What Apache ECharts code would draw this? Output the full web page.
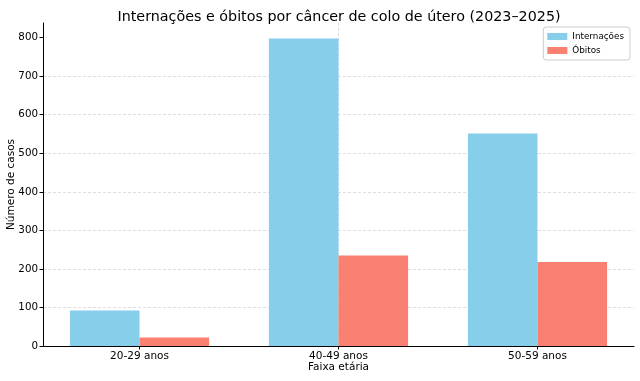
<!DOCTYPE html>
<html><head><meta charset="utf-8">
<script src="https://cdn.jsdelivr.net/npm/echarts@6/dist/echarts.min.js"></script>
<style>html,body{margin:0;padding:0;background:#fff}#c{width:640px;height:381px}</style>
</head><body><div id="c"></div>
<script>
const categories = ['20-29 anos', '40-49 anos', '50-59 anos'];
const internacoes = [92, 798, 551];
const obitos = [22, 235, 218];
const yTicks = [0, 100, 200, 300, 400, 500, 600, 700, 800];

const font = 'DejaVu Sans';
const chart = echarts.init(document.getElementById('c'), null, {renderer: 'canvas'});
const idx = categories.map((_, i) => i);
chart.setOption({
  animation: false,
  backgroundColor: '#fff',
  title: {
    text: 'Internações e óbitos por câncer de colo de útero (2023–2025)',
    left: 334, top: 5, textAlign: 'center',
    textStyle: {fontFamily: font, fontSize: 14.3, fontWeight: 'normal', color: '#000'}
  },
  legend: {
    right: 10, top: 27, orient: 'vertical',
    itemWidth: 20, itemHeight: 7, itemGap: 5, icon: 'rect',
    padding: [5, 6, 5, 4],
    borderColor: '#cccccc', borderWidth: 1, borderRadius: 3, backgroundColor: '#fff',
    textStyle: {fontFamily: font, fontSize: 8.8, color: '#000', padding: [0, 0, 0, 0]},
    data: ['Internações', 'Óbitos']
  },
  grid: {left: 43, right: 6, top: 23, bottom: 35, containLabel: false, outerBoundsMode: 'none'},
  xAxis: {
    type: 'value', min: -0.485, max: 2.485,
    name: 'Faixa etária', nameLocation: 'middle', nameGap: 16, nameMoveOverlap: false,
    nameTextStyle: {fontFamily: font, fontSize: 10.5, color: '#000', verticalAlign: 'top'},
    axisLine: {show: true, onZero: false, lineStyle: {color: '#000', width: 1}},
    axisTick: {show: true, customValues: idx, length: 3.5, lineStyle: {color: '#000'}},
    axisLabel: {show: true, customValues: idx, fontFamily: font, fontSize: 10.5, color: '#000', margin: 5,
      formatter: v => categories[Math.round(v)]},
    splitLine: {show: true, showMinLine: false, showMaxLine: false, lineStyle: {color: '#d6d6d6', type: [3, 2], width: 0.8}}
  },
  yAxis: {
    type: 'value', min: 0, max: 838, interval: 100,
    name: 'Número de casos', nameLocation: 'middle', nameGap: 26.5, nameRotate: 90, nameMoveOverlap: false,
    nameTextStyle: {fontFamily: font, fontSize: 10.5, color: '#000', verticalAlign: 'bottom'},
    axisLine: {show: true, onZero: false, lineStyle: {color: '#000', width: 1}},
    axisTick: {show: true, customValues: yTicks, length: 3.5, lineStyle: {color: '#000'}},
    axisLabel: {customValues: yTicks, fontFamily: font, fontSize: 10.3, color: '#000', margin: 5},
    splitLine: {show: true, showMinLine: false, showMaxLine: false, lineStyle: {color: '#d6d6d6', type: [3, 2], width: 0.8}}
  },
  series: [
    {name: 'Internações', type: 'bar', barWidth: 69.6, barGap: '0%',
      itemStyle: {color: '#87CEEB'}, data: internacoes.map((v, i) => [i, v])},
    {name: 'Óbitos', type: 'bar', barWidth: 69.6, barGap: '0%',
      itemStyle: {color: '#FA8072'}, data: obitos.map((v, i) => [i, v])}
  ]
});
</script></body></html>
